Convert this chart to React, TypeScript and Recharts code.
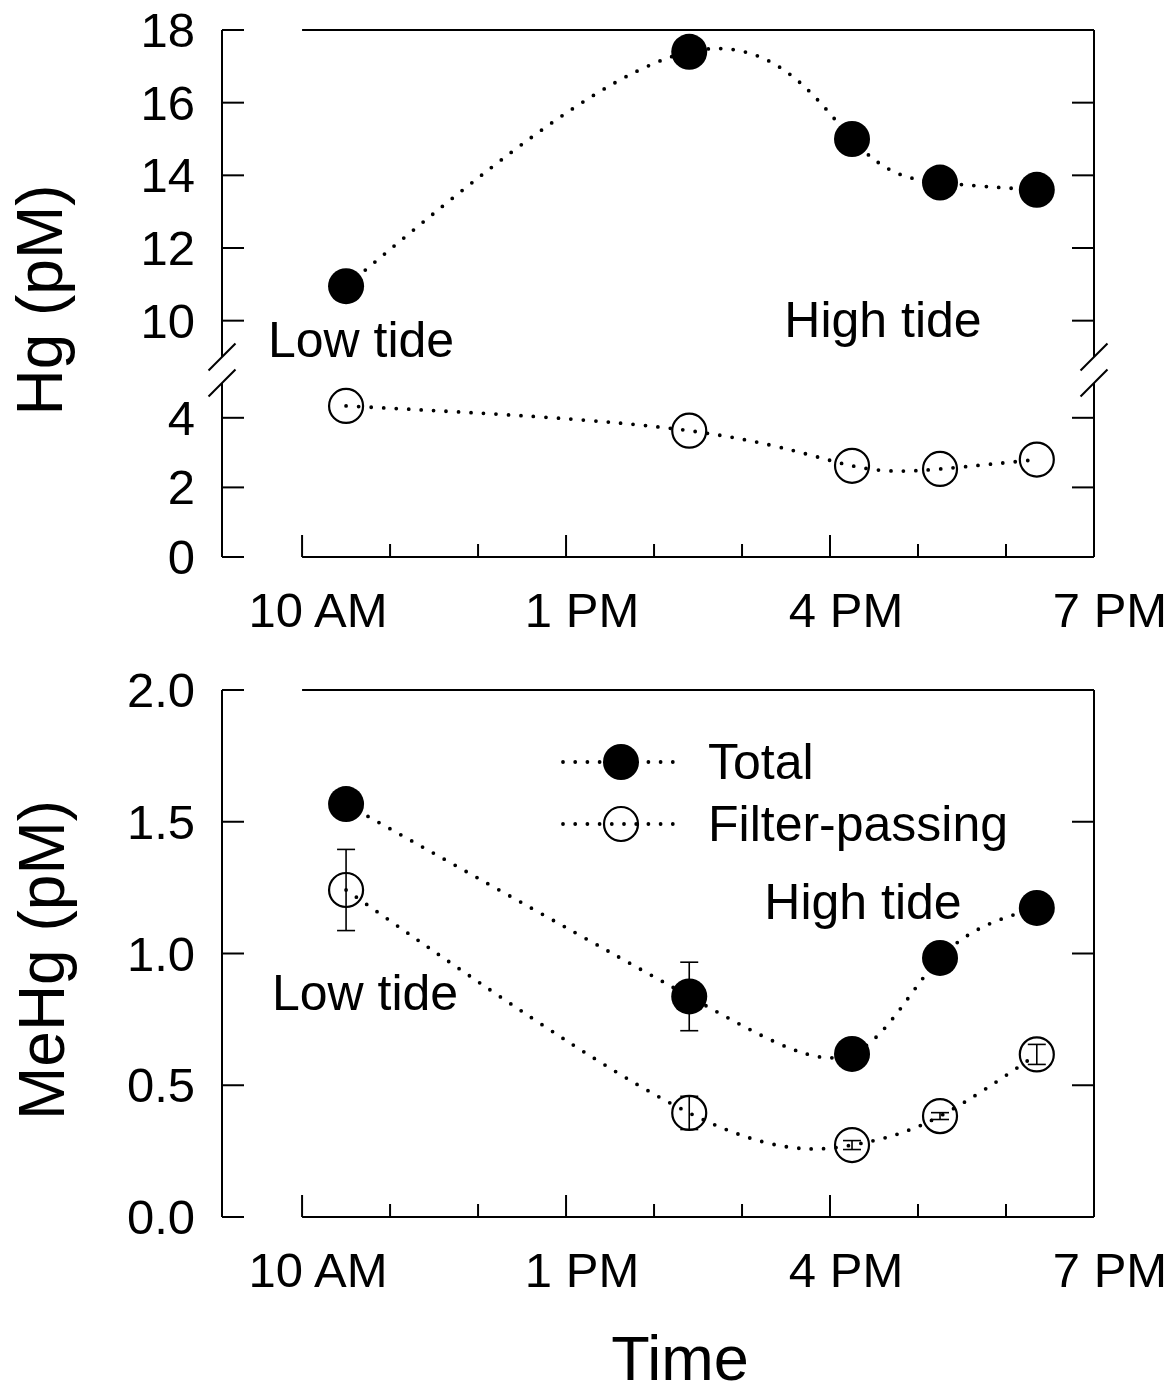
import React from 'react';
import { LineChart, Line, XAxis, YAxis, ReferenceLine, ErrorBar, Legend } from 'recharts';

// sampling times, decimal hours
const times = [10.5, 14.4, 16.25, 17.25, 18.35];

// Hg (pM)
const hgTotal = [10.95, 17.4, 15.0, 13.8, 13.6];
const hgFilter = [4.34, 3.63, 2.62, 2.53, 2.8];

// MeHg (pM)
const mehgTotal = [1.567, 0.837, 0.619, 0.983, 1.173];
const mehgTotalErr = [0, 0.13, 0, 0, 0];
const mehgFilter = [1.241, 0.395, 0.273, 0.383, 0.617];
const mehgFilterErr = [0.154, 0.063, 0.017, 0.013, 0.038];

const hourTicks = [10, 11, 12, 13, 14, 15, 16, 17, 18, 19];
const majorHours = [10, 13, 16, 19];
const hourLabels = ['10 AM', '1 PM', '4 PM', '7 PM'];
const hgUpperTicks = [10, 12, 14, 16, 18];
const hgLowerTicks = [0, 2, 4];
const mehgTicks = [0, 0.5, 1.0, 1.5, 2.0];

const legendRows = ['Total', 'Filter-passing'];

const FONT = "'Liberation Sans', Arial, Helvetica, sans-serif";
const X_MIN = 9.09;
const X_MAX = 19;

const hgData = times.map((t, i) => ({ t, total: hgTotal[i], filter: hgFilter[i] }));
const mehgData = times.map((t, i) => ({
  t,
  total: mehgTotal[i],
  totalErr: mehgTotalErr[i],
  filter: mehgFilter[i],
  filterErr: mehgFilterErr[i],
}));

const HourTick = (props: any) => {
  const { x, y, payload, dir, showLabels } = props;
  const idx = majorHours.indexOf(payload.value);
  const len = idx >= 0 ? 22 : 13;
  return (
    <g>
      <line x1={x} y1={y} x2={x} y2={y + dir * len} stroke="#000" strokeWidth={2} />
      {showLabels && idx >= 0 && (
        <text x={x + 16} y={y + 53} textAnchor="middle" dominantBaseline="central"
          fontSize={49} fontFamily={FONT} fill="#000">
          {hourLabels[idx]}
        </text>
      )}
    </g>
  );
};

const ValueTick = (props: any) => {
  const { x, y, payload, side, digits } = props;
  const d = side === 'left' ? 1 : -1;
  return (
    <g>
      <line x1={x} y1={y} x2={x + d * 22} y2={y} stroke="#000" strokeWidth={2} />
      {side === 'left' && (
        <text x={x - 27} y={y} textAnchor="end" dominantBaseline="central"
          fontSize={49} fontFamily={FONT} fill="#000">
          {Number(payload.value).toFixed(digits)}
        </text>
      )}
    </g>
  );
};

const filledDot = (p: any) => (
  <circle key={`fd-${p.index}`} cx={p.cx} cy={p.cy} r={18} fill="#000" />
);
const openDot = (p: any) => (
  <circle key={`od-${p.index}`} cx={p.cx} cy={p.cy} r={17} fill="none" stroke="#000" strokeWidth={2.2} />
);

const dotted = {
  type: 'natural' as const,
  stroke: '#000',
  strokeWidth: 3.8,
  strokeDasharray: '0 12.5',
  strokeLinecap: 'round' as const,
  isAnimationActive: false,
};

const axisStroke = { stroke: '#000', strokeWidth: 2 };

// y-axes on both sides, ticks pointing inward
const sideAxes = (domain: number[], ticks: number[], digits: number) => [
  <YAxis key="l" yAxisId="l" orientation="left" width={222} type="number" domain={domain}
    allowDataOverflow ticks={ticks} interval={0} tickLine={false} tickSize={0} tickMargin={0}
    axisLine={axisStroke} tick={<ValueTick side="left" digits={digits} />} />,
  <YAxis key="r" yAxisId="r" orientation="right" width={81} type="number" domain={domain}
    allowDataOverflow ticks={ticks} interval={0} tickLine={false} tickSize={0} tickMargin={0}
    axisLine={axisStroke} tick={<ValueTick side="right" digits={digits} />} />,
];

const hLine = (key: string, y: number, xAxisId: any = 0) => (
  <ReferenceLine key={key} yAxisId="l" xAxisId={xAxisId} ifOverflow="visible"
    segment={[{ x: 10, y }, { x: X_MAX, y }]} stroke="#000" strokeWidth={2} />
);

// axis break marks "//" centred on the axes at the given value
const breakMarks = (y: number, dy: number) =>
  [X_MIN, X_MAX].map((x) => (
    <ReferenceLine key={`br-${x}-${y}`} yAxisId="l" ifOverflow="visible"
      segment={[{ x: x - 0.153, y: y - dy }, { x: x + 0.153, y: y + dy }]}
      stroke="#000" strokeWidth={2} />
  ));

const LegendBox = () => (
  <svg width={500} height={130}>
    {legendRows.map((name, i) => {
      const cy = 30 + i * 62;
      return (
        <g key={name}>
          <line x1={23} y1={cy} x2={133} y2={cy} stroke="#000" strokeWidth={3.8}
            strokeDasharray="0 12.2" strokeLinecap="round" />
          {i === 0 ? (
            <circle cx={81} cy={cy} r={18} fill="#000" />
          ) : (
            <circle cx={81} cy={cy} r={17} fill="none" stroke="#000" strokeWidth={2.2} />
          )}
          <text x={168} y={cy} dominantBaseline="central" fontSize={50} fontFamily={FONT} fill="#000">
            {name}
          </text>
        </g>
      );
    })}
  </svg>
);

const App: React.FC = () => {
  return (
    <div style={{ position: 'absolute', left: 0, top: 0, width: 1175, height: 1395, background: '#fff' }}>
      {/* Hg, upper segment of broken axis */}
      <div style={{ position: 'absolute', left: 0, top: 0 }}>
        <LineChart width={1175} height={372} data={hgData} margin={{ top: 30, right: 0, bottom: 15, left: 0 }}>
          <XAxis dataKey="t" type="number" orientation="top" height={0} domain={[X_MIN, X_MAX]}
            allowDataOverflow ticks={hourTicks} interval={0} axisLine={false} tickLine={false}
            tickSize={0} tickMargin={0} tick={<HourTick dir={1} />} />
          {sideAxes([9, 18], hgUpperTicks, 0)}
          {hLine('top', 18)}
          {breakMarks(9, 0.372)}
          <Line yAxisId="l" dataKey="total" {...dotted} dot={filledDot} activeDot={false} />
        </LineChart>
      </div>

      {/* Hg, lower segment */}
      <div style={{ position: 'absolute', left: 0, top: 365 }}>
        <LineChart width={1175} height={292} data={hgData} margin={{ top: 18, right: 0, bottom: 0, left: 0 }}>
          <XAxis dataKey="t" type="number" orientation="bottom" height={100} domain={[X_MIN, X_MAX]}
            allowDataOverflow ticks={hourTicks} interval={0} axisLine={false} tickLine={false}
            tickSize={0} tickMargin={0} tick={<HourTick dir={-1} showLabels />} />
          {sideAxes([0, 5], hgLowerTicks, 0)}
          {hLine('bottom', 0)}
          {breakMarks(5, 0.388)}
          <Line yAxisId="l" dataKey="filter" {...dotted} dot={openDot} activeDot={false} />
        </LineChart>
      </div>

      {/* MeHg */}
      <div style={{ position: 'absolute', left: 0, top: 650 }}>
        <LineChart width={1175} height={667} data={mehgData} margin={{ top: 40, right: 0, bottom: 0, left: 0 }}>
          <XAxis dataKey="t" type="number" orientation="bottom" height={100} domain={[X_MIN, X_MAX]}
            allowDataOverflow ticks={hourTicks} interval={0} axisLine={false} tickLine={false}
            tickSize={0} tickMargin={0} tick={<HourTick dir={-1} showLabels />} />
          <XAxis xAxisId="top" dataKey="t" type="number" orientation="top" height={0} domain={[X_MIN, X_MAX]}
            allowDataOverflow ticks={hourTicks} interval={0} axisLine={false} tickLine={false}
            tickSize={0} tickMargin={0} tick={<HourTick dir={1} />} />
          {sideAxes([0, 2], mehgTicks, 1)}
          {hLine('bottom', 0)}
          {hLine('top', 2)}
          <Line yAxisId="l" dataKey="total" {...dotted} dot={filledDot} activeDot={false}>
            <ErrorBar dataKey="totalErr" direction="y" width={9} stroke="#000" strokeWidth={1.6} />
          </Line>
          <Line yAxisId="l" dataKey="filter" {...dotted} dot={openDot} activeDot={false}>
            <ErrorBar dataKey="filterErr" direction="y" width={9} stroke="#000" strokeWidth={1.6} />
          </Line>
          <Legend layout="horizontal" align="center" verticalAlign="middle" content={<LegendBox />}
            wrapperStyle={{ position: 'absolute', left: 540, top: 82, width: 500, height: 130 }} />
        </LineChart>
      </div>

      {/* titles and annotations */}
      <svg width={1175} height={1395} style={{ position: 'absolute', left: 0, top: 0, pointerEvents: 'none' }}
        fontFamily={FONT} fill="#000">
        <text x={40} y={300} fontSize={64} textAnchor="middle" dominantBaseline="central"
          transform="rotate(-90 40 300)">Hg (pM)</text>
        <text x={42} y={960} fontSize={64} textAnchor="middle" dominantBaseline="central"
          transform="rotate(-90 42 960)">MeHg (pM)</text>
        <text x={680} y={1358} fontSize={63} textAnchor="middle" dominantBaseline="central">Time</text>
        <text x={361} y={340} fontSize={50} textAnchor="middle" dominantBaseline="central">Low tide</text>
        <text x={883} y={320} fontSize={50} textAnchor="middle" dominantBaseline="central">High tide</text>
        <text x={365} y={993} fontSize={50} textAnchor="middle" dominantBaseline="central">Low tide</text>
        <text x={863} y={902} fontSize={50} textAnchor="middle" dominantBaseline="central">High tide</text>
      </svg>
    </div>
  );
};

export default App;
